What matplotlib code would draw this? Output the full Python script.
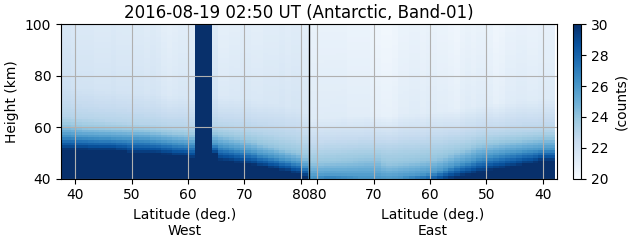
import numpy as np
import matplotlib
matplotlib.use("Agg")
import matplotlib.pyplot as plt

# column latitudes, west side then east side (pole at 81.5)
lat_west = [38,39,40,41,42,43,44,45,46,47,48,49,50,51,52,53,54,55,56,57,58,59,60,61,62,63,64,65,66,67,68,69,70,71,72,73,74,75,76,77,78,79,80,81]
lat_east = lat_west[::-1]
# height (km) at which the counts reach each level, per column
h30_west = [51.2,51.2,51.2,51.2,51.2,51,51,51,51,51,50.6,50.5,49.9,49.8,49.8,49.8,49.8,49.7,49.3,49.2,48.7,48.7,48.6,47.8,110,110,110,49.5,47,46.8,46.6,46.1,46,45.6,45.3,44.7,44.5,43.9,43.7,43,42.8,42,41.8,40.8]
h26_west = [56.7,56.7,56.5,56.3,56.2,56.1,56,55.9,55.9,55.7,55.6,55.5,55.4,55.4,55.3,55.2,54.9,54.7,54.4,54.2,53.9,53.7,53.5,53.4,110,110,110,53.5,52.7,52.3,51.9,51.5,51.1,50.7,50.2,49.5,49.1,48.7,48.2,47.7,47.2,46.7,46.3,44.7]
h24_west = [60.7,60.7,60.3,60,59.7,59.6,59.5,59.4,59.3,59.2,59.1,59,58.9,58.8,58.7,58.6,58.3,58.1,57.7,57.5,57.2,57,56.8,56.7,110,110,110,57.2,56.7,56.3,55.9,55.5,55.1,54.7,54.1,53.4,52.9,52.5,51.9,51.3,50.7,50.2,49.7,48.2]
h23_west = [64.3,64.1,63.8,63.5,63.3,63.1,62.9,62.7,62.5,62.3,62.1,61.9,61.7,61.6,61.5,61.3,61.1,60.9,60.6,60.3,60.1,60,59.8,59.7,110,110,110,60.5,60.1,59.9,59.6,59.3,59.1,58.9,58.5,58.1,57.7,57.3,56.9,56.5,56.1,55.7,55.1,53.8]
top_west = [21.6,21.6,21.5,21.4,21.4,21.4,21.3,21.3,21.3,21.4,21.3,21.3,21.3,21.3,21.3,21.2,21.3,21.2,21.0,20.9,21.0,21.1,21.1,21.1,30,30,30,21.3,20.9,20.9,21.0,21.0,21.1,21.1,21.0,21.0,21.1,21.1,21.1,21.2,21.1,21.2,21.2,21.0]

# east columns listed from the pole (81) to lat 38
h30_east = [38,38,38,38,38,38,38,38,38,38,38,38,38,38,38,38,38,38,38,38,38,38,38.5,39,39.5,40,40.4,41,41.3,41.8,42.3,42.4,43.2,43.6,43.8,44.3,44.5,45,45.6,45.7,46.2,46.9,46.9,46.9]
h26_east = [40.5,40.6,40.8,41,41,40.9,40.8,40.7,40.6,40.5,40.5,40.4,40.3,40,39.8,40,40.4,40.7,41,41.3,41.6,42,42.3,43,43.8,44.6,45.4,46,46.6,47.2,48,48.4,48.8,49.2,49.6,50,50.2,50.5,50.8,51,51.2,51.4,51.5,51.6]
h24_east = [46,46,46,46.2,46.3,46.5,46.6,46.8,47,47.3,47.5,47.5,47.5,46,45.5,45.7,46,46.2,46.5,46.7,47,47.3,47.5,48,48.6,49.2,50,50.6,51.2,52,52.7,53,53.3,53.6,53.9,54.2,54.4,54.6,54.9,55.1,55.3,55.5,55.6,55.7]
h23_east = [51,51.2,51.4,51.6,51.8,52,52.2,52.4,52.5,52.6,52.7,52.7,52.5,52.5,52.3,52.5,52.8,53,53,53.2,53.3,53.5,53.8,54,54.4,54.8,55,55.2,55.6,56,56.6,56.9,57.2,57.4,57.6,57.8,58,58.2,58.4,58.5,58.6,58.7,58.8,58.9]
top_east = [20.7,20.7,20.7,20.7,20.7,20.7,20.7,20.6,20.6,20.6,20.6,20.5,20.4,20.3,20.3,20.4,20.6,20.6,20.7,20.7,20.6,20.7,20.7,20.6,20.6,20.5,20.4,20.6,20.7,20.6,20.7,20.7,20.6,20.4,20.5,20.7,20.7,20.8,20.8,20.7,20.7,20.8,20.8,20.8]

height_rows = np.arange(40.5, 100.5, 1.0)
pole = 81.5
tick_lat = [40, 50, 60, 70, 80]

def column(h23, h24, h26, h30, top, heights):
    if h30 >= 100:
        return np.full_like(heights, 30.0)
    hs = [h30, h26, h24, h23, h23 + 12, 100]
    vs = [30, 26, 24, 23, top + 0.5, top]
    hs = np.maximum.accumulate(hs)
    return np.interp(heights, hs, vs)

cols = [column(a, b, c, d, e, height_rows) for a, b, c, d, e in zip(h23_west, h24_west, h26_west, h30_west, top_west)]
cols += [column(a, b, c, d, e, height_rows) for a, b, c, d, e in zip(h23_east, h24_east, h26_east, h30_east, top_east)]
counts = np.array(cols).T

xpos = np.array(lat_west + [2 * pole - v for v in lat_east], dtype=float) - 0.25
xe = np.concatenate([[xpos[0] - 0.5], (xpos[1:] + xpos[:-1]) / 2, [xpos[-1] + 0.5]])
ye = np.arange(40, 101, 1.0)

fig = plt.figure(figsize=(6.31, 2.43), dpi=100)
ax = fig.add_axes([61 / 631, 1 - 178.5 / 243, 496 / 631, 154 / 243])
m = ax.pcolormesh(xe, ye, counts, cmap="Blues", vmin=20, vmax=30, shading="flat")
ax.set_xlim(37.45, 2 * pole - 37.45)
ax.set_ylim(40, 100)
ticks = tick_lat + [2 * pole - v for v in tick_lat]
ax.set_xticks(ticks)
ax.set_xticklabels([str(v) for v in tick_lat + tick_lat])
ax.set_yticks([40, 60, 80, 100])
ax.grid(True)
ax.axvline(pole, color="k", lw=1)
ax.set_ylabel("Height (km)")
fig.text(299 / 631, 1 - 12.5 / 243, "2016-08-19 02:50 UT (Antarctic, Band-01)", fontsize=12, ha="center", va="center")
fig.text(185 / 631, 1 - 223 / 243, "Latitude (deg.)\nWest", ha="center", va="center", linespacing=1.2)
fig.text(433 / 631, 1 - 223 / 243, "Latitude (deg.)\nEast", ha="center", va="center", linespacing=1.2)
cax = fig.add_axes([573 / 631, 1 - 178.5 / 243, 8 / 631, 154 / 243])
cb = fig.colorbar(m, cax=cax)
cb.set_ticks([20, 22, 24, 26, 28, 30])
cb.set_label("(counts)")
fig.savefig("out.png", dpi=100)
